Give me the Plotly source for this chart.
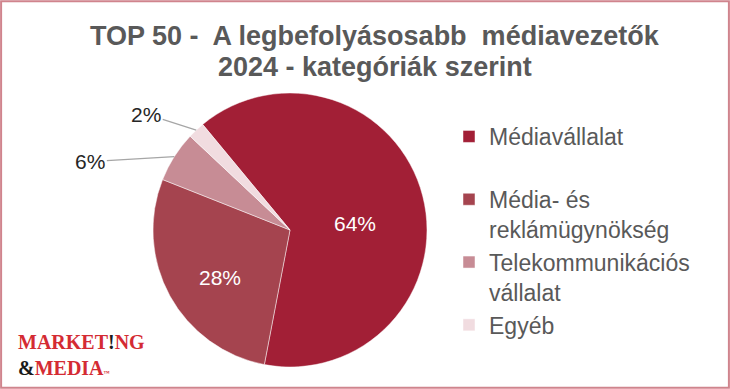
import math
import plotly.graph_objects as go

# ---- data ----
categories = ["Médiavállalat<br> ", "Média- és<br>reklámügynökség", "Telekommunikációs<br>vállalat", "Egyéb"]
values = [64, 28, 6, 2]
slice_colors = ["#A21F36", "#A5444F", "#C78C95", "#F1DCE0"]
title_lines = ["TOP 50 -  A legbefolyásosabb  médiavezetők", "2024 - kategóriák szerint"]

W, H = 730, 389
CX, CY, R = 290, 230, 137
ROT = -39.6
FONT = "Liberation Sans, Arial, sans-serif"

fig = go.Figure()
fig.add_trace(go.Pie(
    labels=categories,
    values=values,
    sort=False,
    direction="clockwise",
    rotation=ROT,
    marker=dict(colors=slice_colors, line=dict(color="rgba(255,255,255,0.6)", width=0.8)),
    textinfo="none",
    domain=dict(x=[(CX - R) / W, (CX + R) / W], y=[(H - CY - R) / H, (H - CY + R) / H]),
    hoverinfo="label+percent",
))

# percentage labels, positioned from the data angles
total = sum(values)
inside_place = {0: (0.477, 9.1), 1: (0.62, -5.6)}       # radius fraction, angle tweak
outside_place = {2: (-84, 5), 3: (-50, -16)}           # pixel offset of text from rim point
start = ROT
for i, v in enumerate(values):
    span = 360 * v / total
    mid_deg = start + span / 2
    start += span
    if i in inside_place:
        rf, tweak = inside_place[i]
        a = math.radians(mid_deg + tweak)
        px = CX + rf * R * math.sin(a)
        py = CY - rf * R * math.cos(a)
        fig.add_annotation(x=px / W, y=1 - py / H, xref="paper", yref="paper",
                           xanchor="center", yanchor="middle", text=f"{v}%", showarrow=False,
                           font=dict(size=21, color="white", family=FONT))
    elif i in outside_place:
        a = math.radians(mid_deg)
        px = CX + R * math.sin(a)
        py = CY - R * math.cos(a)
        ax, ay = outside_place[i]
        fig.add_annotation(
            x=px / W, y=1 - py / H, xref="paper", yref="paper",
            text=f"{v}%", showarrow=True, arrowhead=0, arrowwidth=1.2,
            arrowcolor="#A6A6A6", ax=ax, ay=ay, standoff=0,
            font=dict(size=21, color="#262626", family=FONT),
        )

# title (two lines)
for line, ty in zip(title_lines, [36, 67]):
    fig.add_annotation(x=375 / W, y=1 - ty / H, xref="paper", yref="paper",
                       xanchor="center", yanchor="middle", text=f"<b>{line}</b>", showarrow=False,
                       font=dict(family=FONT, size=27, color="#595959"))

# logo
fig.add_annotation(x=16 / W, y=1 - 355 / H, xref="paper", yref="paper", xanchor="left", yanchor="middle",
                   align="left",
                   text="MARKET<span style='color:#1a1a1a'>!</span>NG<br>"
                        "<span style='color:#1a1a1a'>&</span>MEDIA<span style='font-size:6px'>™</span>",
                   showarrow=False,
                   font=dict(family="Liberation Serif, serif", size=20, color="#D42B33", weight="bold"))

fig.add_shape(type="rect", xref="paper", yref="paper", x0=0.0015, x1=0.9985, y0=0.003, y1=0.997,
              line=dict(color="#D0848D", width=2))

fig.update_layout(
    width=W, height=H,
    margin=dict(l=0, r=0, t=0, b=0),
    paper_bgcolor="white", plot_bgcolor="white",
    legend=dict(x=449 / W, y=1 - 115 / H, xanchor="left", yanchor="top", valign="top",
                font=dict(family=FONT, size=23, color="#595959"),
                bgcolor="rgba(0,0,0,0)"),
    showlegend=True,
)

fig.write_html("out.html", config={"displayModeBar": False},
               post_script="document.body.style.margin='0';")
